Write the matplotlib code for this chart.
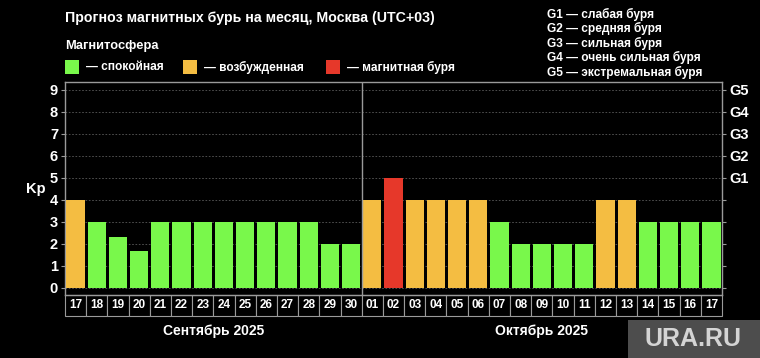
import matplotlib
matplotlib.use("Agg")
import matplotlib.pyplot as plt
from matplotlib.patches import Rectangle
import matplotlib.transforms as mtransforms

# data
days = ["17", "18", "19", "20", "21", "22", "23", "24", "25", "26", "27", "28", "29", "30",
        "01", "02", "03", "04", "05", "06", "07", "08", "09", "10", "11", "12", "13", "14",
        "15", "16", "17"]
kp = [4, 3, 2.33, 1.67, 3, 3, 3, 3, 3, 3, 3, 3, 2, 2,
      4, 5, 4, 4, 4, 4, 3, 2, 2, 2, 2, 4, 4, 3, 3, 3, 3]
months = ["Сентябрь 2025", "Октябрь 2025"]
month_len = [14, 17]
g_labels = ["G1", "G2", "G3", "G4", "G5"]
g_desc = ["слабая буря", "средняя буря", "сильная буря", "очень сильная буря", "экстремальная буря"]
legend_names = ["спокойная", "возбужденная", "магнитная буря"]

GREEN = "#79f84b"
ORANGE = "#f4bd42"
RED = "#e6382a"
GREY = "#9a9a9a"

def color_for(v):
    if v >= 5:
        return RED
    if v >= 4:
        return ORANGE
    return GREEN

plt.rcParams['font.family'] = ['Liberation Sans', 'DejaVu Sans']

fig = plt.figure(figsize=(7.6, 3.58), dpi=100)
fig.patch.set_facecolor("black")
ax = fig.add_axes([65 / 760, 1 - 295 / 358, 657 / 760, 213 / 358])
ax.set_facecolor("black")

x = list(range(len(kp)))
ax.bar(x, kp, width=0.86, color=[color_for(v) for v in kp], zorder=3)
ax.set_xlim(-0.5, len(kp) - 0.5)
ax.set_ylim(-0.33, 9.36)

# grid + divider
for y in range(10):
    ax.axhline(y, color="#5a5a5a", lw=0.6, ls=(0, (2, 2)), zorder=1)
ax.axvline(month_len[0] - 0.5, color=GREY, lw=1, zorder=4)

for s in ax.spines.values():
    s.set_color(GREY)
    s.set_linewidth(1)

ax.set_xticks([])
ax.set_yticks(range(10))
ax.set_yticklabels([str(i) for i in range(10)], color="white", fontsize=10.5, fontweight="bold")
ax.tick_params(axis="y", colors=GREY, length=3, labelcolor="white", pad=2)
ax.text(-0.045, 0.498, "Kp", transform=ax.transAxes, color="white", fontsize=10.5,
        fontweight="bold", ha="center", va="center")

ax2 = ax.twinx()
ax2.set_ylim(ax.get_ylim())
ax2.set_yticks(range(10))
ax2.set_yticklabels([""] * 5 + g_labels, color="white", fontsize=10.5, fontweight="bold")
ax2.tick_params(axis="y", colors=GREY, length=3, labelcolor="white", pad=2)
for s in ax2.spines.values():
    s.set_visible(False)

# date boxes under the axis
trans = mtransforms.blended_transform_factory(ax.transData, ax.transAxes)
box_h = 21 / 213
for i, d in enumerate(days):
    ax.add_patch(Rectangle((i - 0.5, -box_h), 1, box_h, transform=trans, facecolor="black",
                           edgecolor=GREY, lw=0.8, clip_on=False))
    ax.text(i, -box_h / 2, d, transform=trans, ha="center", va="center", color="white",
            fontsize=8.5, fontweight="bold")

start = 0
for m, n in zip(months, month_len):
    ax.text(start + (n - 1) / 2, -36 / 213, m, transform=trans, ha="center", va="center",
            color="white", fontsize=10, fontweight="bold")
    start += n

# header texts
fig.text(65 / 760, 1 - 18 / 358, "Прогноз магнитных бурь на месяц, Москва (UTC+03)",
         color="white", fontsize=10.2, fontweight="bold", va="center")
fig.text(65 / 760, 1 - 46 / 358, "Магнитосфера", color="white", fontsize=9.3,
         fontweight="bold", va="center")
sq_x = [65, 183, 326]
for px, c, name in zip(sq_x, [GREEN, ORANGE, RED], legend_names):
    fig.patches.append(Rectangle((px / 760, 1 - 74 / 358), 14 / 760, 14 / 358,
                                 transform=fig.transFigure, facecolor=c, edgecolor="none"))
    fig.text((px + 21) / 760, 1 - 67 / 358, "— " + name, color="white", fontsize=8.6,
             fontweight="bold", va="center")

for k, (g, d) in enumerate(zip(g_labels, g_desc)):
    fig.text(547 / 760, 1 - (14 + 14.5 * k) / 358, g + " — " + d, color="white",
             fontsize=8.6, fontweight="bold", va="center")

# watermark
fig.patches.append(Rectangle((628 / 760, 0), 132 / 760, 38 / 358, transform=fig.transFigure,
                             facecolor="#4d4d4d", edgecolor="none"))
fig.text(693 / 760, 19 / 358, "URA.RU", color="#d4d4d4", fontsize=18, fontweight="bold",
         ha="center", va="center")

fig.savefig("out.png", dpi=100, facecolor="black")
